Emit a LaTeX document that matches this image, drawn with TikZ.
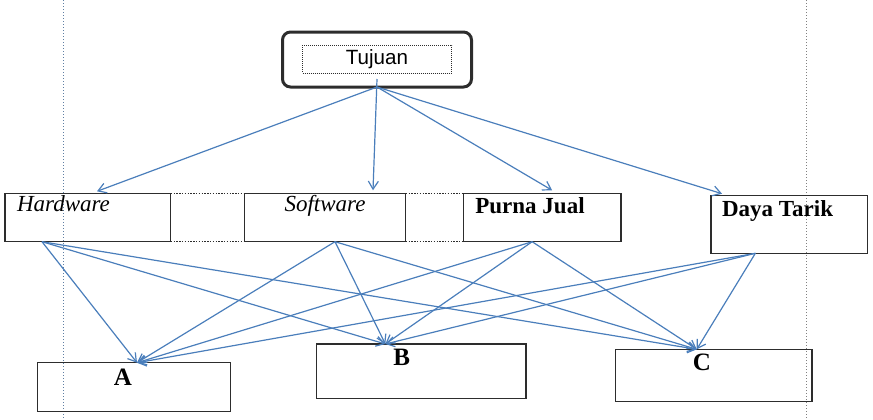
\documentclass[tikz,border=0pt]{standalone}
\usepackage{fontspec}
\setmainfont{Liberation Serif}
\setsansfont{Liberation Sans}
\usetikzlibrary{arrows.meta}

\definecolor{panah}{RGB}{74,126,187}
\definecolor{garis}{RGB}{45,45,45}

\tikzset{
  kotak/.style={draw=garis, line width=0.75pt, inner sep=0pt, outer sep=0pt},
  teks/.style={inner sep=0pt, font=\fontsize{11.5}{13}\selectfont},
  huruf/.style={inner sep=0pt, font=\fontsize{12.5}{14}\selectfont\bfseries},
  panahbiru/.style={draw=panah, line width=0.6pt, -{Straight Barb[length=4pt,width=5pt]}},
  titik/.style={draw=garis, line width=0.7pt, dash pattern=on 0.7pt off 0.7pt},
}

\begin{document}
\begin{tikzpicture}[x=0.5pt, y=-0.5pt]
    \useasboundingbox (0,0) rectangle (873,419);

    % garis bantu tepi
    \draw[draw=panah!60!gray, line width=0.4pt, dash pattern=on 0.5pt off 1pt] (63,0) -- (63,419);
    \draw[draw=gray, line width=0.4pt, dash pattern=on 0.5pt off 1pt] (806,0) -- (806,419);

    % tujuan
    \node[kotak, line width=1.5pt, rounded corners=4pt, minimum width=94.5pt, minimum height=27.5pt] (tujuan) at (377,59.5) {};
    \node[kotak, line width=0.5pt, dash pattern=on 0.5pt off 0.5pt, minimum width=74.5pt, minimum height=14pt,
          font=\sffamily\fontsize{10.3}{12}\selectfont] (tujuanteks) at (377,59) {Tujuan};

    % kriteria
    \node[kotak, minimum width=82.85pt, minimum height=24.2pt] (hardware) at (87.85,217.5) {};
    \node[kotak, minimum width=80.7pt, minimum height=24.2pt] (software) at (325,217.5) {};
    \node[kotak, minimum width=78.85pt, minimum height=24.2pt] (purna) at (542.15,217.5) {};
    \node[kotak, minimum width=78.35pt, minimum height=28.8pt] (daya) at (789.35,224.5) {};
    \node[teks, anchor=base west] (lblhardware) at ([xshift=5.85pt,yshift=-9.2pt]hardware.north west) {\textit{Hardware}};
    \node[teks, anchor=base] (lblsoftware) at ([yshift=-9.2pt]software.north) {\textit{Software}};
    \node[teks, anchor=base west] (lblpurna) at ([xshift=5.85pt,yshift=-10pt]purna.north west) {\textbf{Purna Jual}};
    \node[teks, anchor=base west] (lbldaya) at ([xshift=5.35pt,yshift=-10.5pt]daya.north west) {\textbf{Daya Tarik}};

    \draw[titik] (hardware.north east) -- (software.north west);
    \draw[titik] (hardware.south east) -- (software.south west);
    \draw[titik] (software.north east) -- (purna.north west);
    \draw[titik] (software.south east) -- (purna.south west);

    % alternatif
    \node[kotak, minimum width=96.5pt, minimum height=24.5pt] (altA) at (134,387.2) {};
    \node[kotak, minimum width=104.65pt, minimum height=27.15pt] (altB) at (421.35,371.15) {};
    \node[kotak, minimum width=98.25pt, minimum height=26.2pt] (altC) at (713.75,375.5) {};
    \node[huruf, anchor=base] (lblA) at ([xshift=-5.5pt,yshift=-11.15pt]altA.north) {A};
    \node[huruf, anchor=base] (lblB) at ([xshift=-9.8pt,yshift=-10.85pt]altB.north) {B};
    \node[huruf, anchor=base] (lblC) at ([xshift=-5.9pt,yshift=-10.35pt]altC.north) {C};

    % tujuan ke kriteria
    \draw[panahbiru] (tujuan.south) -- ([xshift=46pt,yshift=1pt]hardware.north west);
    \draw[panahbiru] ([yshift=4pt]tujuan.south) -- ([xshift=24pt,yshift=1.5pt]software.north);
    \draw[panahbiru] (tujuan.south) -- ([xshift=5pt,yshift=1.5pt]purna.north);
    \draw[panahbiru] (tujuan.south) -- ([xshift=5.5pt,yshift=1pt]daya.north west);

    % kriteria ke alternatif
    \draw[panahbiru] ([xshift=18.5pt]hardware.south west) -- ([xshift=1.5pt]altA.north);
    \draw[panahbiru] ([xshift=18.5pt]hardware.south west) -- ([xshift=-18pt]altB.north);
    \draw[panahbiru] ([xshift=18.5pt]hardware.south west) -- ([xshift=-8.5pt]altC.north);
    \draw[panahbiru] ([xshift=5pt]software.south) -- ([xshift=1.5pt]altA.north);
    \draw[panahbiru] ([xshift=5pt]software.south) -- ([xshift=-18pt]altB.north);
    \draw[panahbiru] ([xshift=5pt]software.south) -- ([xshift=-8.5pt]altC.north);
    \draw[panahbiru] ([xshift=-5pt]purna.south) -- ([xshift=1.5pt]altA.north);
    \draw[panahbiru] ([xshift=-5pt]purna.south) -- ([xshift=-18pt]altB.north);
    \draw[panahbiru] ([xshift=-5pt]purna.south) -- ([xshift=-8.5pt]altC.north);
    \draw[panahbiru] ([xshift=-17pt]daya.south) -- ([xshift=1.5pt]altA.north);
    \draw[panahbiru] ([xshift=-17pt]daya.south) -- ([xshift=-18pt]altB.north);
    \draw[panahbiru] ([xshift=-17pt]daya.south) -- ([xshift=-8.5pt]altC.north);
\end{tikzpicture}
\end{document}
